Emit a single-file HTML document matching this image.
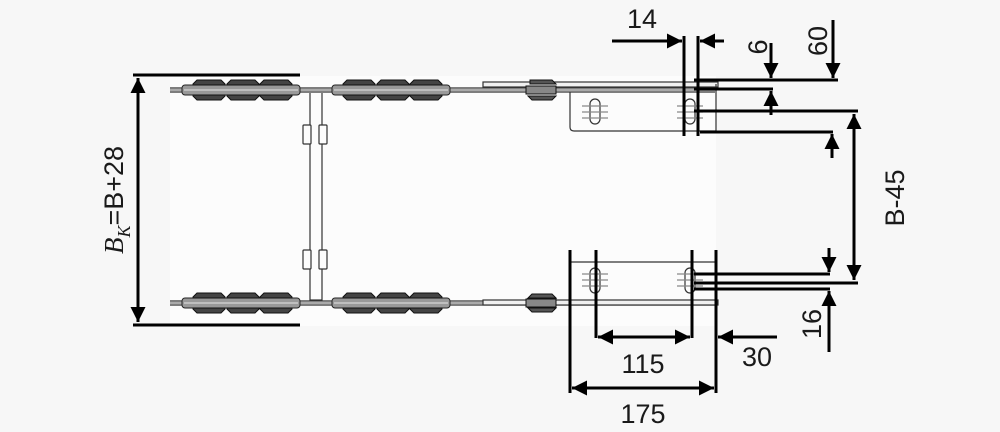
<!DOCTYPE html>
<html><head><meta charset="utf-8"><style>
html,body{margin:0;padding:0;background:#f7f7f7;}
svg{display:block}
text{font-family:"Liberation Sans","DejaVu Sans",sans-serif;fill:#1a1a1a;}
</style></head><body>
<svg width="1000" height="432" viewBox="0 0 1000 432" xmlns="http://www.w3.org/2000/svg">
<defs>
<marker id="a" viewBox="0 0 10 10" refX="10" refY="5" markerWidth="5" markerHeight="5" orient="auto-start-reverse"><path d="M0,0L10,5L0,10z" fill="#000"/></marker>
<g id="link">
  <path d="M4,-10 L28,-10 L32,-6 L32,-5 L0,-5 L0,-6Z" fill="#444" stroke="#111" stroke-width="1"/>
  <path d="M4,10 L28,10 L32,6 L32,5 L0,5 L0,6Z" fill="#444" stroke="#111" stroke-width="1"/>
</g>
<g id="set">
  <rect x="0" y="-5" width="118" height="10" rx="3" fill="#999" stroke="#222" stroke-width="1"/>
  <line x1="2" y1="0" x2="116" y2="0" stroke="#ccc" stroke-width="1.5"/>
  <use href="#link" x="11"/><use href="#link" x="45"/><use href="#link" x="78"/>
</g>
<g id="chain">
  <line x1="0" y1="-2" x2="545" y2="-2" stroke="#333" stroke-width="1.2"/>
  <line x1="0" y1="2" x2="545" y2="2" stroke="#333" stroke-width="1.2"/>
  <line x1="0" y1="0" x2="545" y2="0" stroke="#aaa" stroke-width="2"/>
  <use href="#set" x="12"/><use href="#set" x="162"/>
</g>
</defs>
<rect x="170" y="76" width="546" height="250" fill="#fcfcfc"/>
<use href="#chain" x="170" y="90"/>
<use href="#chain" x="170" y="303"/>
<g stroke="#333" stroke-width="1.2" fill="#fcfcfc">
<line x1="310" y1="93" x2="310" y2="301"/><line x1="322" y1="93" x2="322" y2="301"/>
<line x1="310" y1="300" x2="322" y2="300"/>
<rect x="303" y="125" width="8" height="19" rx="1"/><rect x="319" y="125" width="8" height="19" rx="1"/>
<rect x="303" y="250" width="8" height="19" rx="1"/><rect x="319" y="250" width="8" height="19" rx="1"/>
</g>
<g stroke="#333" stroke-width="1.2" fill="none">
<rect x="483" y="82" width="235" height="5" fill="#f0f0f0"/>
<path d="M570,92 V127 Q570,131 574,131 H716 V84"/>
<rect x="590" y="99" width="10" height="25" rx="5"/>
<rect x="685" y="99" width="10" height="25" rx="5"/>
<path d="M582,106H608M582,112H608M582,118H608M677,106H703M677,112H703M677,118H703" stroke="#888"/>
<rect x="483" y="300" width="235" height="5" fill="#f0f0f0"/>
<path d="M570,262 H716 V303"/>
<rect x="590" y="268" width="10" height="25" rx="5"/>
<rect x="685" y="268" width="10" height="25" rx="5"/>
<path d="M582,274H608M582,280H608M582,286H608M677,274H703M677,280H703M677,286H703" stroke="#888"/>
</g>
<g fill="#555" stroke="#111">
<path d="M530,80 L552,80 L556,84 L530,84Z M528,96 L556,96 L552,100 L532,100Z"/>
<rect x="526" y="86" width="30" height="8" fill="#888"/>
<path d="M532,294 L552,294 L556,298 L528,298Z M528,308 L556,308 L552,312 L532,312Z"/>
<rect x="526" y="299" width="30" height="8" fill="#888"/>
</g>
<g stroke="#000" stroke-width="3" fill="none">
<line x1="133" y1="75" x2="300" y2="75"/><line x1="133" y1="325" x2="300" y2="325"/>
<line x1="138" y1="78" x2="138" y2="322" marker-start="url(#a)" marker-end="url(#a)"/>
<line x1="684" y1="36" x2="684" y2="136"/><line x1="698" y1="36" x2="698" y2="136"/>
<line x1="612" y1="41" x2="682" y2="41" marker-end="url(#a)"/>
<line x1="724" y1="41" x2="700" y2="41" marker-end="url(#a)"/>
<line x1="694" y1="80" x2="838" y2="80"/>
<line x1="694" y1="89" x2="773" y2="89"/>
<line x1="694" y1="111" x2="858" y2="111"/>
<line x1="700" y1="132" x2="833" y2="132"/>
<line x1="833" y1="20" x2="833" y2="78" marker-end="url(#a)"/>
<line x1="771" y1="43" x2="771" y2="78" marker-end="url(#a)"/>
<line x1="771" y1="115" x2="771" y2="91" marker-end="url(#a)"/>
<line x1="832" y1="158" x2="832" y2="134" marker-end="url(#a)"/>
<line x1="854" y1="114" x2="854" y2="280" marker-start="url(#a)" marker-end="url(#a)"/>
<line x1="694" y1="274" x2="830" y2="274"/>
<line x1="694" y1="283" x2="858" y2="283"/>
<line x1="694" y1="289" x2="830" y2="289"/>
<line x1="829" y1="248" x2="829" y2="272" marker-end="url(#a)"/>
<line x1="829" y1="352" x2="829" y2="291" marker-end="url(#a)"/>
<line x1="570" y1="250" x2="570" y2="393"/>
<line x1="596" y1="250" x2="596" y2="338"/>
<line x1="692" y1="250" x2="692" y2="338"/>
<line x1="716" y1="250" x2="716" y2="393"/>
<line x1="598" y1="337" x2="690" y2="337" marker-start="url(#a)" marker-end="url(#a)"/>
<line x1="777" y1="337" x2="718" y2="337" marker-end="url(#a)"/>
<line x1="572" y1="388" x2="714" y2="388" marker-start="url(#a)" marker-end="url(#a)"/>
</g>
<g font-size="27">
<text x="642" y="28" text-anchor="middle">14</text>
<text x="643" y="373" text-anchor="middle">115</text>
<text x="757" y="366" text-anchor="middle">30</text>
<text x="643" y="423" text-anchor="middle">175</text>
<text transform="translate(767,47) rotate(-90)" text-anchor="middle">6</text>
<text transform="translate(827,41) rotate(-90)" text-anchor="middle">60</text>
<text transform="translate(904,198) rotate(-90)" text-anchor="middle">B-45</text>
<text transform="translate(821,324) rotate(-90)" text-anchor="middle">16</text>
<text transform="translate(123,200) rotate(-90)" text-anchor="middle"><tspan font-family="Liberation Serif" font-style="italic">B</tspan><tspan font-family="Liberation Serif" font-style="italic" font-size="18" dy="7">K</tspan><tspan dy="-7">=B+28</tspan></text>
</g>
</svg>
</body></html>
